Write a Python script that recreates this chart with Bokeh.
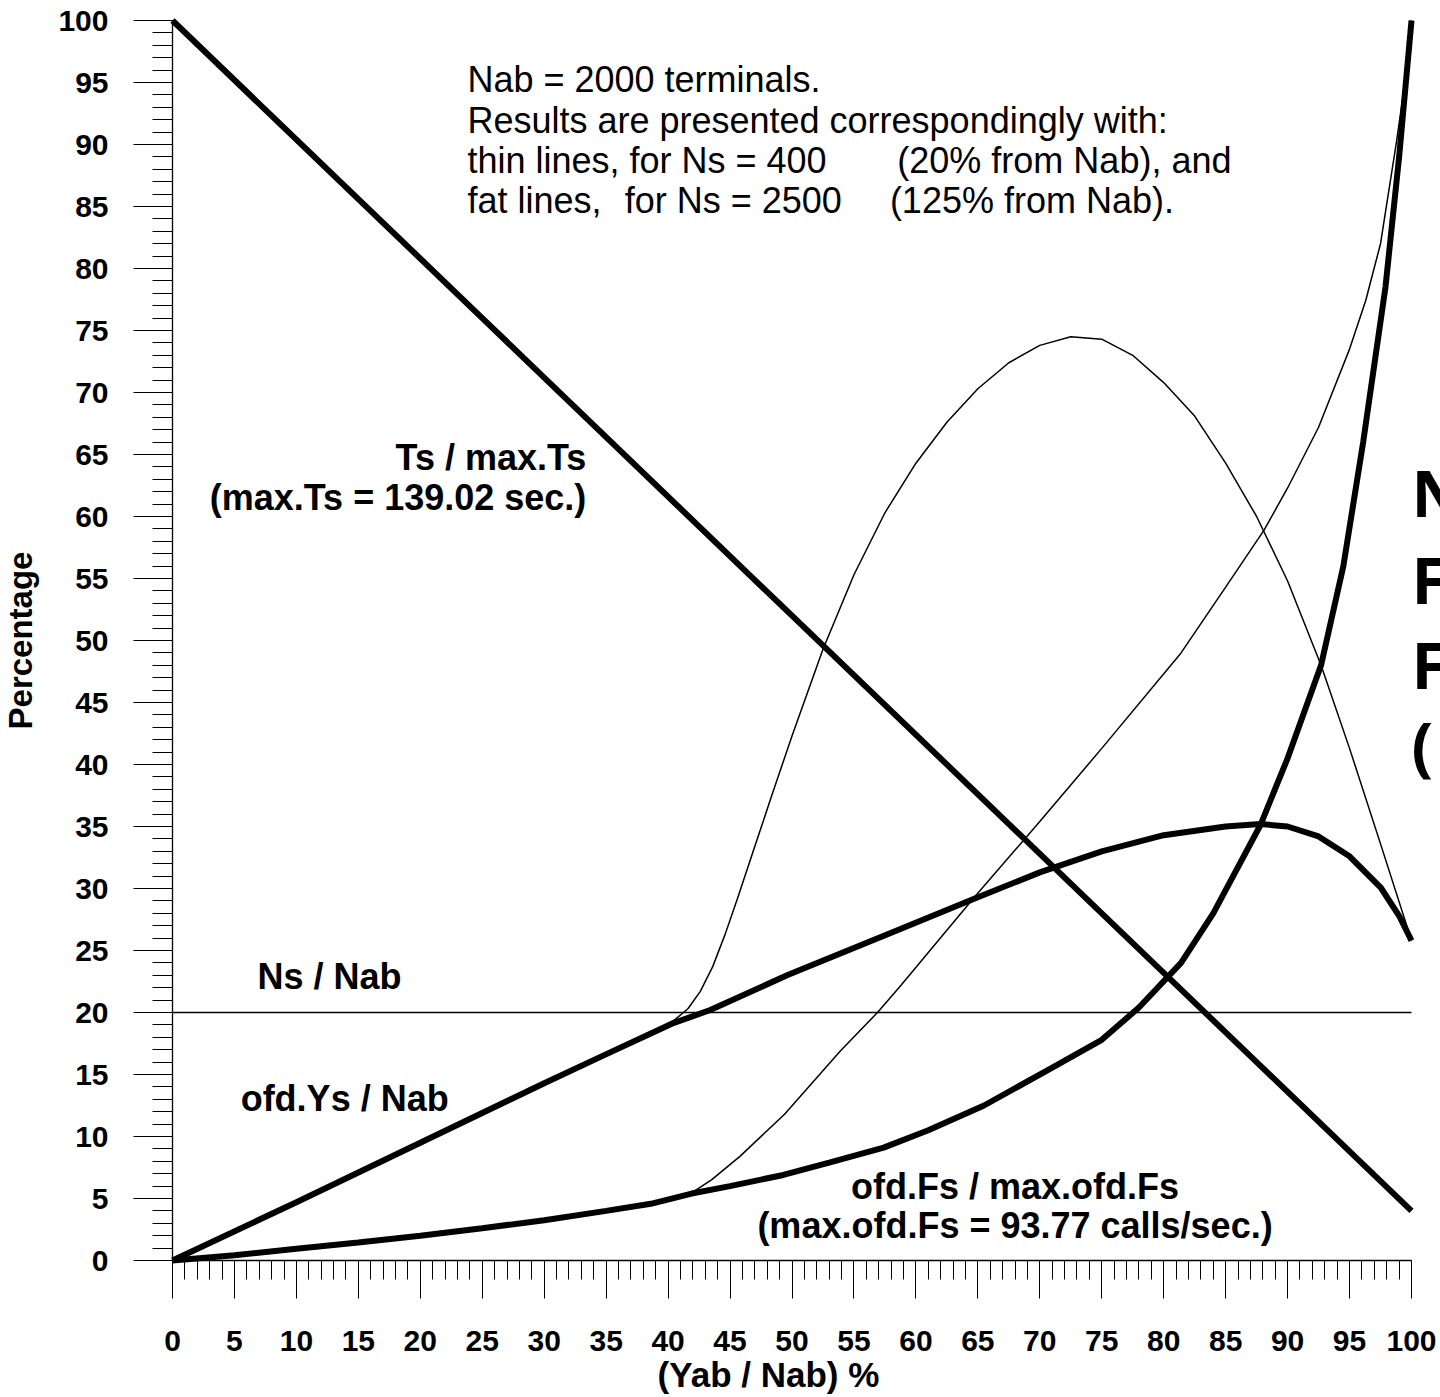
from bokeh.plotting import figure
from bokeh.models import Label, SingleIntervalTicker, LinearAxis, Range1d
from bokeh.embed import file_html
from bokeh.resources import INLINE

# ---- data ----
ts_x = [0, 25, 50, 75, 100]
ts_y = [100, 76, 52, 28, 4]

ns_x = [0, 100]
ns_y = [20, 20]

ys_fat_x = [0, 10, 20, 30, 34.5, 40.3, 43.4, 49.6, 58.8, 65, 70, 75, 80, 85, 87.8, 90, 92.5, 95, 97.5, 99, 100]
ys_fat_y = [0, 4.7, 9.5, 14.3, 16.4, 19.1, 20.2, 23.0, 26.75, 29.3, 31.3, 33.0, 34.3, 35.0, 35.2, 35.0, 34.2, 32.6, 30.1, 27.8, 25.8]

ys_thin_x = [0, 10, 20, 30, 34.5, 40.4, 41.6, 42.6, 43.6, 44.6, 45.6, 46.8, 48.4, 50, 52.5, 55, 57.5, 60, 62.5, 65, 67.5,
             70, 72.5, 75, 77.5, 80, 82.5, 85, 87.5, 90, 92.7, 95, 97.5, 100]
ys_thin_y = [0, 4.7, 9.5, 14.3, 16.4, 19.3, 20.3, 21.7, 23.7, 26.3, 29.2, 32.8, 37.6, 42.3, 49.3, 55.3, 60.3, 64.3, 67.6, 70.3, 72.4,
             73.8, 74.5, 74.3, 73.0, 70.8, 68.1, 64.3, 60.0, 54.8, 48.0, 41.3, 33.6, 25.8]

fs_fat_x = [0, 5, 10, 15, 20, 25, 30, 35, 38.6, 41.9, 45, 49.3, 53, 57.4, 61, 65.5, 70.9, 75, 78, 81.4, 84,
            87.8, 90, 92.7, 94.5, 96.1, 97.9, 99.0, 100]
fs_fat_y = [0, 0.42, 0.94, 1.45, 2.0, 2.6, 3.25, 4.0, 4.57, 5.4, 6.0, 6.9, 7.9, 9.1, 10.5, 12.5, 15.5, 17.8, 20.4, 24.0, 28.0,
            35.1, 40.5, 48.0, 56.0, 66.0, 78.5, 89.0, 100]

fs_thin_x = [0, 10, 20, 30, 38.6, 41.9, 43.5, 45.8, 49.4, 53.9, 56.9, 58.8, 64.8, 70, 75, 81.4, 85, 88.1, 90, 92.5,
             95, 96.3, 97.5, 98.8, 99.4, 100]
fs_thin_y = [0, 0.94, 2.0, 3.25, 4.57, 5.45, 6.5, 8.4, 11.8, 16.9, 20.0, 22.2, 29.4, 35.4, 41.3, 49.0, 54.3, 58.9, 62.3, 67.2,
             73.5, 77.4, 82.0, 90.3, 94.5, 100]

tick_step = 5
axis_min, axis_max = 0, 100

# ---- figure: the frame covers the whole canvas, the axes are pinned at 0 ----
W, H = 1440, 1397
left_px, right_px, top_px, bottom_px = 172, 29, 20, 137
xu = (W - left_px - right_px) / (axis_max - axis_min)
yu = (H - top_px - bottom_px) / (axis_max - axis_min)
x_range = Range1d(axis_min - left_px / xu, axis_max + right_px / xu)
y_range = Range1d(axis_min - bottom_px / yu, axis_max + top_px / yu)

p = figure(width=W, height=H, x_range=x_range, y_range=y_range,
           output_backend="svg", toolbar_location=None,
           x_axis_location=None, y_axis_location=None,
           min_border=0)
p.grid.visible = False
p.xgrid.grid_line_color = None
p.ygrid.grid_line_color = None
p.outline_line_color = None
p.background_fill_color = "white"
p.border_fill_color = "white"

xaxis = LinearAxis(fixed_location=0, bounds=(axis_min, axis_max))
yaxis = LinearAxis(fixed_location=0, bounds=(axis_min, axis_max))
p.add_layout(xaxis, "below")
p.add_layout(yaxis, "left")

for ax, tout, mout, sto in ((xaxis, 38, 19, 32), (yaxis, 39, 20, 25)):
    ax.ticker = SingleIntervalTicker(interval=tick_step, num_minor_ticks=5)
    ax.major_tick_out = tout
    ax.minor_tick_out = mout
    ax.major_tick_in = 0
    ax.minor_tick_in = 0
    ax.axis_line_color = "black"
    ax.axis_line_width = 1.3
    ax.major_tick_line_color = "black"
    ax.minor_tick_line_color = "black"
    ax.major_label_text_font = "Liberation Sans"
    ax.major_label_text_font_style = "bold"
    ax.major_label_text_font_size = "30px"
    ax.major_label_text_color = "black"
    ax.major_label_standoff = sto

yaxis.axis_label = "Percentage"
yaxis.axis_label_text_font = "Liberation Sans"
yaxis.axis_label_text_font_style = "bold"
yaxis.axis_label_text_font_size = "33px"
yaxis.axis_label_text_color = "black"
yaxis.axis_label_standoff = 16

# ---- curves ----
thick = 6
thin = 1.5
p.line(ns_x, ns_y, line_width=thin, color="black")
p.line(ys_thin_x, ys_thin_y, line_width=thin, color="black")
p.line(fs_thin_x, fs_thin_y, line_width=thin, color="black")
p.line(ts_x, ts_y, line_width=thick, color="black")
p.line(ys_fat_x, ys_fat_y, line_width=thick, color="black")
p.line(fs_fat_x, fs_fat_y, line_width=thick, color="black")

# ---- texts ----
def lab(x, y, text, size, bold=True, align="left", font="Liberation Sans"):
    p.add_layout(Label(x=x, y=y, text=text, text_font=font, text_font_size=size,
                       text_font_style="bold" if bold else "normal", text_align=align,
                       text_baseline="middle", text_color="black"))

reg = "36px"
lab(23.8, 95.24, "Nab = 2000 terminals.", reg, bold=False)
lab(23.8, 91.96, "Results are presented correspondingly with:", reg, bold=False)
lab(23.8, 88.73, "thin lines, for Ns = 400", reg, bold=False)
lab(58.5, 88.73, "(20% from Nab), and", reg, bold=False)
lab(23.8, 85.5, "fat lines,", reg, bold=False)
lab(36.5, 85.5, "for Ns = 2500", reg, bold=False)
lab(57.9, 85.5, "(125% from Nab).", reg, bold=False)

bsz = "36px"
lab(33.4, 64.76, "Ts / max.Ts", bsz, align="right")
lab(33.4, 61.53, "(max.Ts = 139.02 sec.)", bsz, align="right")
lab(6.86, 22.94, "Ns / Nab", bsz)
lab(5.5, 13.06, "ofd.Ys / Nab", bsz)
lab(68.0, 5.97, "ofd.Fs / max.ofd.Fs", bsz, align="center")
lab(68.0, 2.82, "(max.ofd.Fs = 93.77 calls/sec.)", bsz, align="center")

# x-axis title
lab(48.1, -9.2, "(Yab / Nab) %", "35px", align="center")

# big letters at the right edge (cut by the page edge as in the reference)
big = "64px"
lab(100.0, 61.9, "N", big, font="Open Sans")
lab(100.0, 54.9, "F", big, font="Open Sans")
lab(100.0, 48.06, "F", big, font="Open Sans")
lab(100.0, 41.65, "(", big, font="Open Sans")

open("out.html", "w").write(file_html(p, INLINE))
